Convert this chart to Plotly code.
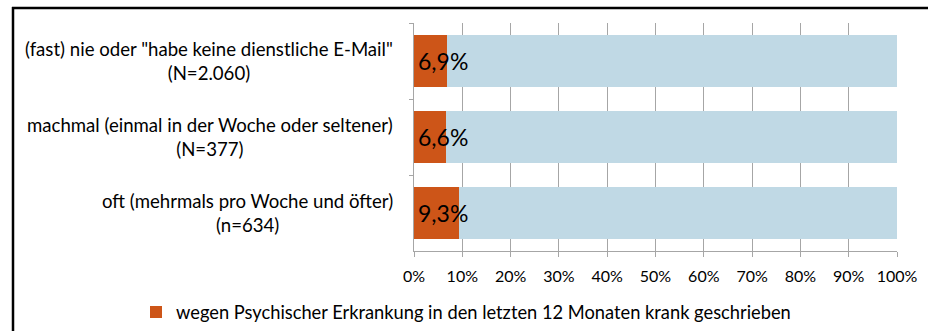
import plotly.graph_objects as go

# Survey groups (top to bottom) and share on sick leave due to mental illness (%)
groups = [
    '(fast) nie oder "habe keine dienstliche E-Mail"',
    "machmal (einmal in der Woche oder seltener)",
    "oft (mehrmals pro Woche und öfter)",
]
group_n = ["(N=2.060)", "(N=377)", "(n=634)"]
sick_share = [6.9, 6.6, 9.3]
rest_share = [100 - v for v in sick_share]
tick_vals = list(range(0, 101, 10))
tick_text = [f"{v}%" for v in tick_vals]
legend_name = "wegen Psychischer Erkrankung in den letzten 12 Monaten krank geschrieben"

ORANGE = "#CD5518"
LIGHTBLUE = "#C0D9E5"
GRID = "#A6A6A6"
FONT = "Lato"

fig = go.Figure()
fig.add_trace(go.Bar(
    y=groups, x=sick_share, orientation="h", name=legend_name,
    marker=dict(color=ORANGE, line=dict(width=0)),
))
fig.add_trace(go.Bar(
    y=groups, x=rest_share, orientation="h", name="", showlegend=False,
    marker=dict(color=LIGHTBLUE, line=dict(width=0)),
))

# value labels at the bar base
for g, v in zip(groups, sick_share):
    fig.add_annotation(
        x=0, y=g, xref="x", yref="y", xanchor="left", yanchor="middle",
        xshift=2, showarrow=False,
        text=f"{v:.1f}%".replace(".", ","),
        font=dict(family=FONT, size=23, color="#000000"),
    )

# two-line category labels, centred lines, right-aligned block
for g, n in zip(groups, group_n):
    fig.add_annotation(
        x=0, y=g, xref="x domain", yref="y", xanchor="right", yanchor="middle",
        xshift=-19, showarrow=False, align="center",
        text=f"{g}<br>{n}",
        font=dict(family=FONT, size=18.6, color="#000000"),
    )

# outer frame lines (top and left)
fig.add_shape(type="line", xref="paper", yref="paper",
              x0=(12 - 414) / 483, x1=(930 - 414) / 483,
              y0=(251 - 8) / 228, y1=(251 - 8) / 228,
              line=dict(color="#000000", width=2.5))
fig.add_shape(type="line", xref="paper", yref="paper",
              x0=(13 - 414) / 483, x1=(13 - 414) / 483,
              y0=(251 - 7) / 228, y1=(251 - 335) / 228,
              line=dict(color="#000000", width=2.5))

fig.update_layout(
    barmode="stack",
    bargap=0.316,
    width=928, height=331,
    margin=dict(l=414, r=31, t=23, b=80, autoexpand=False),
    paper_bgcolor="white", plot_bgcolor="white",
    font=dict(family=FONT, size=16, color="#000000"),
    showlegend=True,
    legend=dict(
        orientation="h",
        xref="container", x=466 / 928, xanchor="center",
        yref="container", y=1 - 312 / 331, yanchor="middle",
        font=dict(family=FONT, size=18.3, color="#000000"),
        itemwidth=30,
    ),
    xaxis=dict(
        range=[0, 100], tickvals=tick_vals, ticktext=tick_text,
        showgrid=True, gridcolor=GRID, gridwidth=1,
        showline=True, linecolor=GRID, linewidth=1,
        ticks="outside", ticklen=5, tickcolor=GRID,
        tickfont=dict(family=FONT, size=16, color="#000000"),
        ticklabelstandoff=6,
        zeroline=False, fixedrange=True,
    ),
    yaxis=dict(
        autorange="reversed", showticklabels=False,
        showline=True, linecolor=GRID, linewidth=1,
        ticks="outside", ticklen=4, tickcolor=GRID, tickson="boundaries",
        showgrid=False, zeroline=False, fixedrange=True,
    ),
)

fig.write_html("out.html")
